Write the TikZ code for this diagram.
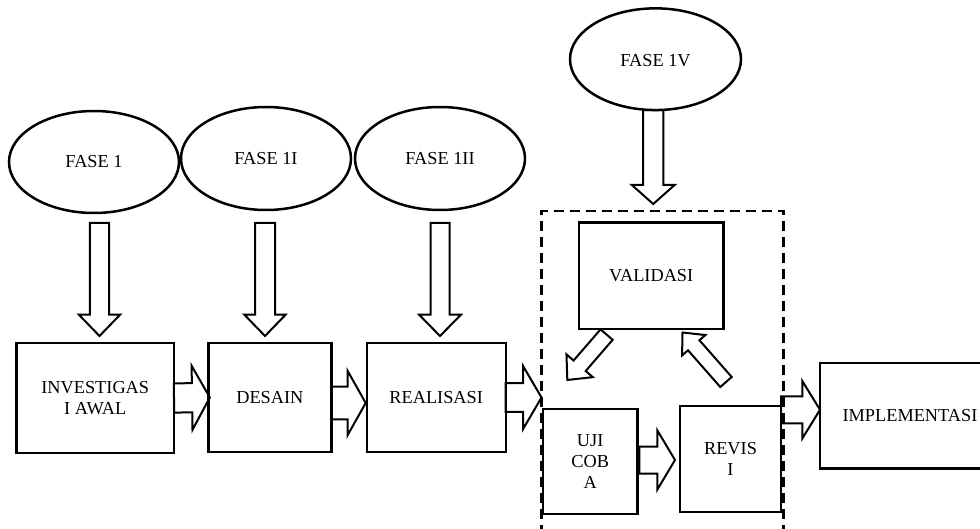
\documentclass[tikz,border=0pt]{standalone}
\usepackage{fontspec}
\setmainfont{Liberation Serif}
\usetikzlibrary{shapes.geometric,calc}
\newdimen\baDx
\newdimen\baDy
\newcommand\blockarrow[5]{%
  \path #1 coordinate (baT);
  \path #2 coordinate (baH);
  \pgfextractx{\baDx}{\pgfpointanchor{baT}{center}}%
  \pgfextracty{\baDy}{\pgfpointanchor{baT}{center}}%
  \edef\baX{\the\baDx}\edef\baY{\the\baDy}%
  \pgfextractx{\baDx}{\pgfpointanchor{baH}{center}}%
  \pgfextracty{\baDy}{\pgfpointanchor{baH}{center}}%
  \edef\bbX{\the\baDx}\edef\bbY{\the\baDy}%
  \pgfmathsetmacro\baAng{atan2(\bbY-\baY,\bbX-\baX)}%
  \pgfmathsetmacro\baLen{veclen(\bbX-\baX,\bbY-\baY)}%
  \pgfmathsetmacro\baNeck{\baLen-#5}%
  \draw[blockarr,shift={(\baX,\baY)},rotate=\baAng]
    (0,-#3) -- (\baNeck,-#3) -- (\baNeck,-#4) -- (\baLen,0)
    -- (\baNeck,#4) -- (\baNeck,#3) -- (0,#3) -- cycle;
}
\tikzset{
  txt/.style={font=\fontsize{18.3}{21}\selectfont, align=center},
  fase/.style={ellipse, draw, line width=2.5pt, inner sep=0pt, outer sep=0pt, txt},
  stepbox/.style={rectangle, draw, line width=2.3pt, inner sep=0pt, outer sep=0pt, txt},
  blockarr/.style={draw, line width=2pt, line join=miter},
  grp/.style={draw, line width=2.5pt, dash pattern=on 10pt off 6pt},
}
\begin{document}
\begin{tikzpicture}[x=1pt,y=-1pt]
\useasboundingbox (0,0) rectangle (980,529);
\fill[white] (0,0) rectangle (980,529);
\clip (0,0) rectangle (980,529);

% phase ellipses
\node[fase, minimum width=170pt, minimum height=102pt] (f1) at (94,162) {FASE 1};
\node[fase, minimum width=170pt, minimum height=103pt] (f2) at (266,158.5) {FASE 1I};
\node[fase, minimum width=170pt, minimum height=103pt] (f3) at (440,158.5) {FASE 1II};
\node[fase, minimum width=171pt, minimum height=101.7pt,
      label={[txt,yshift=-1pt]center:FASE 1V}] (f4) at (655.5,59.2) {};

% dashed group frame (open at the bottom)
\coordinate (grpTL) at (541.5,211);
\coordinate (grpTR) at (783.5,211);
\coordinate (grpBL) at (541.5,535);
\coordinate (grpBR) at (783.5,535);
\draw[grp] (grpBL) -- (grpTL) -- (grpTR) -- (grpBR);

% process boxes
\node[stepbox, minimum width=157.5pt, minimum height=110pt] (inv) at (95.25,398) {INVESTIGAS\\I AWAL};
\node[stepbox, minimum width=123pt, minimum height=109pt] (des) at (269.85,397.5) {DESAIN};
\node[stepbox, minimum width=139pt, minimum height=109pt] (rea) at (436.2,397.5) {REALISASI};
\node[stepbox, minimum width=144.4pt, minimum height=106.3pt] (val) at (651.2,275.75) {VALIDASI};
\node[stepbox, minimum width=94.4pt, minimum height=105pt] (uji) at (590.2,461.5) {UJI\\COB\\A};
\node[stepbox, minimum width=101pt, minimum height=106pt] (rev) at (730.5,459) {REVIS\\I};
\node[stepbox, minimum width=180pt, minimum height=105.5pt] (imp) at (910,415.75) {IMPLEMENTASI};

% vertical block arrows
\blockarrow{($(f1.south)+(5.5,10)$)}{($(inv.north)+(4.25,-7)$)}{9.6}{20.7}{21.4}
\blockarrow{($(f2.south)+(-1,13)$)}{($(des.north)+(-4.85,-7)$)}{10}{20.7}{21.4}
\blockarrow{($(f3.south)+(0,13)$)}{($(rea.north)+(3.8,-7)$)}{9.5}{21}{21.4}
\blockarrow{($(f4.south)+(-2.25,0)$)}{($(val.north)+(2,-18.6)$)}{10.2}{21.6}{19.2}

% horizontal block arrows
\blockarrow{(inv.east)}{($(des.west)+(1.5,0)$)}{14.6}{32}{17.8}
\blockarrow{($(des.east)+(0,5.5)$)}{($(rea.west)+(-1,5.5)$)}{16.3}{32}{18}
\blockarrow{(rea.east)}{(rea.east -| grpTL)}{14.4}{31.5}{18.4}
\blockarrow{($(uji.east)+(2,-1.5)$)}{($(rev.west)+(-5,1)$)}{13.5}{29.5}{17.6}
\blockarrow{($(imp.west -| rev.east)+(0,-6)$)}{($(imp.west)+(0,-6)$)}{13.5}{28.75}{17.7}

% diagonal block arrows
\blockarrow{($(val.south)+(-44.6,5.7)$)}{($(uji.north)+(-22.9,-29)$)}{8}{17.4}{18.8}
\blockarrow{($(rev.north)+(-4.5,-24)$)}{($(val.south)+(31.3,3.6)$)}{7.6}{15.5}{17}
\end{tikzpicture}
\end{document}
